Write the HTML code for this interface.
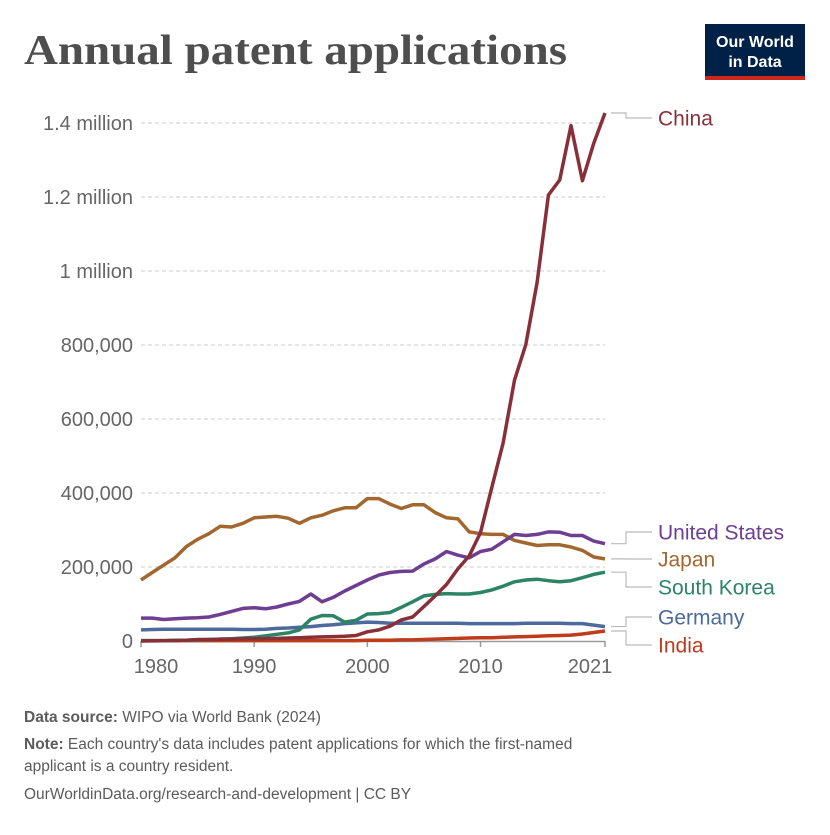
<!DOCTYPE html>
<html><head><meta charset="utf-8"><style>
body{margin:0;background:#fff;width:830px;height:830px;overflow:hidden;font-family:"Liberation Sans",sans-serif}
</style></head><body>
<svg width="830" height="830" xmlns="http://www.w3.org/2000/svg">
<text x="24" y="64" font-family="Liberation Serif,serif" font-size="42" font-weight="bold" fill="#4e4e4e" textLength="543" lengthAdjust="spacingAndGlyphs">Annual patent applications</text>
<g>
<rect x="705" y="24" width="100" height="56" fill="#002147"/>
<rect x="705" y="76" width="100" height="4" fill="#ce261e"/>
<text x="755" y="47" text-anchor="middle" font-size="16" font-weight="bold" fill="#fff">Our World</text>
<text x="755" y="67" text-anchor="middle" font-size="16" font-weight="bold" fill="#fff">in Data</text>
</g>
<g id="grid"></g>
<g id="yticks"></g>
<g id="xticks"></g>
<g id="series"></g>
<g id="labels"></g>
<g font-size="15.5" fill="#5b5b5b">
<text x="24" y="722"><tspan font-weight="bold">Data source:</tspan> WIPO via World Bank (2024)</text>
<text x="24" y="749"><tspan font-weight="bold">Note:</tspan> Each country's data includes patent applications for which the first-named</text>
<text x="24" y="771">applicant is a country resident.</text>
<text x="24" y="799">OurWorldinData.org/research-and-development  | CC BY</text>
</g>
</svg>
<script>
const years=[];for(let y=1980;y<=2021;y++)years.push(y);
const china=[0.1,0.2,0.5,1,2,4,4,5,5,6,6,6,7,8,9,10,11,12,13,15,25,30,40,57,65,93,122,153,195,230,293,415,535,705,801,969,1205,1246,1393,1244,1345,1427];
const us=[62,62,58,60,62,63,65,72,80,88,90,87,92,100,107,127,106,118,135,150,165,178,185,188,189,208,222,242,232,225,242,248,268,288,285,288,295,294,285,285,270,263];
const japan=[165,185,205,225,255,275,290,310,308,318,333,335,337,332,318,333,340,352,360,360,385,385,370,358,368,368,347,333,330,295,290,288,288,272,265,258,260,260,254,245,227,222];
const korea=[1,1,1,2,2,3,4,5,6,8,10,14,18,22,30,59,69,68,51,56,73,74,77,91,106,122,126,128,127,127,131,138,148,160,165,167,163,160,163,171,180,186];
const germany=[30,31,32,32,32,32,32,32,32,31,31,32,34,35,37,39,42,44,47,49,51,50,48,48,48,48,48,48,48,47,47,47,47,47,48,48,48,48,47,47,43,39];
const india=[1,1,1,1,1,1,1,1,1,1,1,1,1,1,1,1,1,1,1,1,2,2,2,3,3,4,5,6,7,8,9,9,10,11,12,13,14,15,16,19,23,27];
const yTicks=[0,200,400,600,800,1000,1200,1400];
const yTickLabels=["0","200,000","400,000","600,000","800,000","1 million","1.2 million","1.4 million"];
const xTicks=[1980,1990,2000,2010,2021];
const seriesNames=["China","United States","Japan","South Korea","Germany","India"];
const seriesColors=["#883039","#6d3e91","#a2672e","#2c8465","#4c6a9c","#be3c1b"];
const labelYs=[118,532,559,587,617,645];
const X=y=>141+(y-1980)*(464/41), Y=v=>641-v*(518/1400);
const NS="http://www.w3.org/2000/svg";
function mk(t,a,p){const e=document.createElementNS(NS,t);for(const k in a)e.setAttribute(k,a[k]);p.appendChild(e);return e;}
const grid=document.getElementById('grid'),yt=document.getElementById('yticks'),xt=document.getElementById('xticks');
yTicks.forEach((v,i)=>{
 if(v>0){const l=mk('line',{x1:141,x2:605,y1:Y(v),y2:Y(v),stroke:'#ddd','stroke-dasharray':'4,3','stroke-width':1.5},grid);
 
 }
 const t=mk('text',{x:133,y:Y(v)+7,'text-anchor':'end','font-size':20,fill:'#666'},yt);t.textContent=yTickLabels[i];
 
 
});
mk('line',{x1:141,x2:605,y1:641.5,y2:641.5,stroke:'#999','stroke-width':1.5},xt);
xTicks.forEach(y=>{
 mk('line',{x1:X(y),x2:X(y),y1:641,y2:647,stroke:'#999','stroke-width':1.5},xt);
 const t=mk('text',{x:Math.min(Math.max(X(y),156),590),y:673,'text-anchor':'middle','font-size':20,fill:'#666'},xt);t.textContent=y;
 
 
});
const data=[china,us,japan,korea,germany,india];
const sg=document.getElementById('series'),lg=document.getElementById('labels');
data.slice().reverse().forEach((d,ri)=>{
 const i=data.length-1-ri;
 const p=mk('path',{d:d.map((v,j)=>(j?'L':'M')+X(years[j]).toFixed(1)+','+Y(v).toFixed(1)).join(''),fill:'none',stroke:seriesColors[i],'stroke-width':3.5,'stroke-linejoin':'round'},sg);
 
 
});
data.forEach((d,i)=>{
 const ey=Y(d[d.length-1]),ly=labelYs[i];
 mk('path',{d:`M611,${ey}H626V${ly}H652`,fill:'none',stroke:'#bbb','stroke-width':1.2},lg);
 const t=mk('text',{x:658,y:labelYs[i]+7.5,'font-size':21,fill:seriesColors[i]},lg);t.textContent=seriesNames[i];
 
 
});
</script>
</body></html>
